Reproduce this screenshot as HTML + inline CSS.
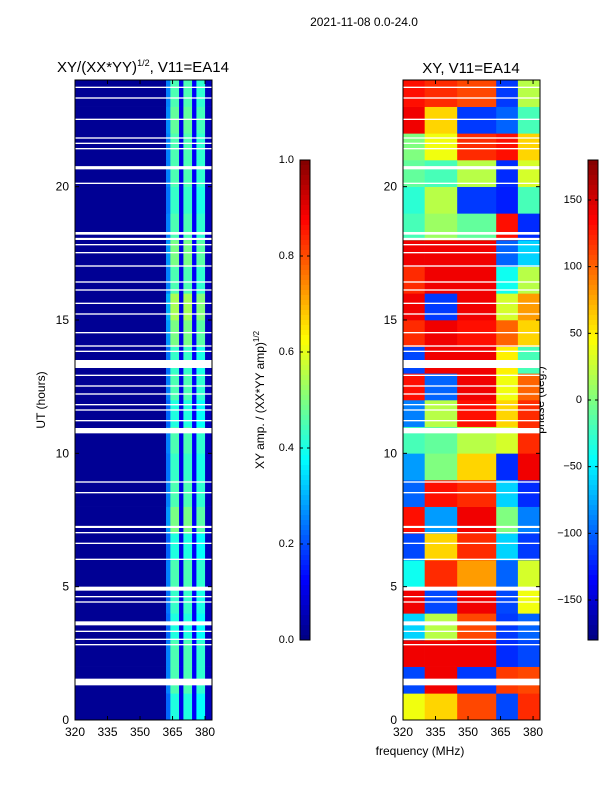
<!DOCTYPE html>
<html><head><meta charset="utf-8">
<style>
body{margin:0;background:#fff;font-family:"Liberation Sans",sans-serif;}
svg text{font-family:"Liberation Sans",sans-serif;}
</style></head>
<body>
<svg id="fig" width="600" height="800" viewBox="0 0 600 800" xmlns="http://www.w3.org/2000/svg">
<rect width="600" height="800" fill="#fff"/>
<text x="364" y="26" font-size="12" text-anchor="middle">2021-11-08 0.0-24.0</text>
<text x="143" y="72" font-size="15" text-anchor="middle">XY/(XX*YY)<tspan dy="-6" font-size="9">1/2</tspan><tspan dy="6">, V11=EA14</tspan></text>
<text x="471" y="73" font-size="15" text-anchor="middle">XY, V11=EA14</text>
<text x="420" y="755" font-size="12" text-anchor="middle">frequency (MHz)</text>
<text transform="translate(45,400) rotate(-90)" font-size="12" text-anchor="middle">UT (hours)</text>
<text transform="translate(264,400) rotate(-90)" font-size="12" text-anchor="middle">XY amp. / (XX*YY amp)<tspan dy="-5" font-size="8">1/2</tspan></text>
<text transform="translate(544,400) rotate(-90)" font-size="12" text-anchor="middle">phase (deg.)</text>
<g id="g"></g>
</svg>
<script>
// ---- data ----
const freqTicks=[320,335,350,365,380];
const hourTicks=[0,5,10,15,20];
const ampTicks=[0.0,0.2,0.4,0.6,0.8,1.0];
const phaseTicks=[-150,-100,-50,0,50,100,150];
// amplitude column bands (start MHz) and values
const ampBandStart=[320,362,364,368,370,374,376,380];
const ampBandVal=[0.02,0.25,0.45,0.1,0.45,0.12,0.42,0.06];
// hourly modulation of bright stripes
const ampHourFactor=[0.9,1.0,1.0,0.9,0.95,1.0,0.9,1.1,1.0,0.95,1.0,0.9,1.0,0.95,1.1,1.2,1.0,1.1,1.0,0.95,1.0,1.0,1.05,1.0];
// phase bands
const phaseBandStart=[320,330,345,363,373];
const phase=[
[40,60,110,-110,120],[-110,140,-115,115,110],[140,140,140,-120,-110],[-60,20,110,-115,-100],
[140,-110,140,-110,40],[-40,120,80,-100,30],[-110,60,120,-60,-115],[130,-80,140,0,-90],
[-100,130,120,-60,-120],[-80,0,60,-120,140],[-20,-10,20,30,120],[-90,20,130,60,120],
[130,-100,140,40,100],[-110,140,140,50,-20],[120,140,130,100,60],[140,-115,140,30,80],
[120,140,140,-40,20],[140,140,140,-100,-60],[-20,10,-10,130,-120],[-30,20,-115,-125,-20],
[-10,-20,20,-120,30],[0,40,120,130,60],[140,60,-115,-100,-20],[130,120,110,-115,20]];
// missing-data rows (hour, width)
const gapHour=[1.3,2.8,3.0,3.3,3.55,4.4,4.6,4.85,6.0,6.6,7.0,7.2,8.5,8.9,10.75,11.2,11.6,11.8,12.2,12.5,12.9,13.2,13.8,14.0,14.5,15.2,15.6,16.1,16.4,17.0,17.5,17.8,18.0,18.2,20.1,20.65,21.4,21.6,21.8,22.5,23.3,23.7];
const gapWidth=[0.25,0.05,0.05,0.05,0.15,0.05,0.05,0.15,0.05,0.05,0.05,0.08,0.05,0.05,0.2,0.05,0.05,0.05,0.05,0.05,0.05,0.3,0.05,0.05,0.05,0.05,0.05,0.05,0.05,0.05,0.05,0.05,0.08,0.1,0.05,0.12,0.05,0.05,0.05,0.05,0.05,0.05];

// ---- scales ----
const NS="http://www.w3.org/2000/svg";
const g=document.getElementById('g');
const F0=320,F1=383.2,Y0=80,Y1=720;
const panels=[{x0:75,x1:212},{x0:403,x1:540}];
function xs(p,f){return p.x0+(f-F0)/(F1-F0)*(p.x1-p.x0);}
function ys(h){return Y1-h/24*(Y1-Y0);}
const CB0=640,CB1=160;
function ampY(v){return CB0-v*(CB0-CB1);}
function phY(v){return CB0-(v+180)/360*(CB0-CB1);}
function jet(t){t=Math.max(0,Math.min(1,t));
 const c=x=>Math.round(255*Math.max(0,Math.min(1,1.5-Math.abs(4*t-x))));
 return `rgb(${c(3)},${c(2)},${c(1)})`;}
function el(tag,attrs,parent){const e=document.createElementNS(NS,tag);for(const k in attrs)e.setAttribute(k,attrs[k]);(parent||g).appendChild(e);return e;}

// left heatmap
const hl=el('g',{});


for(let h=0;h<24;h++){
 for(let b=0;b<ampBandStart.length;b++){
  const f0=ampBandStart[b],f1=b+1<ampBandStart.length?ampBandStart[b+1]:F1;
  const v=ampBandVal[b]>0.2?ampBandVal[b]*ampHourFactor[h]:ampBandVal[b];
  const r=el('rect',{x:xs(panels[0],f0),y:ys(h+1),width:xs(panels[0],f1)-xs(panels[0],f0)+0.3,height:ys(h)-ys(h+1)+0.3,fill:jet(v)},hl);
  
  
 }
}
// right heatmap
const hr=el('g',{});


for(let h=0;h<24;h++){
 for(let b=0;b<phaseBandStart.length;b++){
  const f0=phaseBandStart[b],f1=b+1<phaseBandStart.length?phaseBandStart[b+1]:F1;
  const r=el('rect',{x:xs(panels[1],f0),y:ys(h+1),width:xs(panels[1],f1)-xs(panels[1],f0)+0.3,height:ys(h)-ys(h+1)+0.3,fill:jet((phase[h][b]+180)/360)},hr);
  
  
 }
}
// gaps
panels.forEach((p,pi)=>{
 for(let i=0;i<gapHour.length;i++){
  const r=el('rect',{x:p.x0,y:ys(gapHour[i]+gapWidth[i]),width:p.x1-p.x0,height:Math.max(1.3,ys(gapHour[i])-ys(gapHour[i]+gapWidth[i])),fill:'#fff'});
  
  
 }
});
// axes
panels.forEach((p,pi)=>{
 const fr=el('rect',{x:p.x0,y:Y0,width:p.x1-p.x0,height:Y1-Y0,fill:'none',stroke:'#000','stroke-width':1});
 
 
 freqTicks.forEach(f=>{const x=xs(p,f);
  el('line',{x1:x,y1:Y1,x2:x,y2:Y1-4,stroke:'#000'});el('line',{x1:x,y1:Y0,x2:x,y2:Y0+4,stroke:'#000'});
  const t=el('text',{x:x,y:Y1+16,'font-size':12,'text-anchor':'middle'});t.textContent=f;
  
  });
 hourTicks.forEach(h=>{const y=ys(h);
  el('line',{x1:p.x0,y1:y,x2:p.x0+4,y2:y,stroke:'#000'});el('line',{x1:p.x1,y1:y,x2:p.x1-4,y2:y,stroke:'#000'});
  const t=el('text',{x:p.x0-6,y:y+4,'font-size':12,'text-anchor':'end'});t.textContent=h;
  
  });
});
// colorbars
function colorbar(x,fn,ticks,ys2,name){
 const cg=el('g',{});
 
 
 for(let i=0;i<96;i++){el('rect',{x:x,y:CB1+i*5,width:10,height:5.3,fill:jet(1-(i+0.5)/96)},cg);}
 el('rect',{x:x,y:CB1,width:10,height:CB0-CB1,fill:'none',stroke:'#000'},cg);
 ticks.forEach(v=>{const y=ys2(v);el('line',{x1:x,y1:y,x2:x+3,y2:y,stroke:'#000'},cg);el('line',{x1:x+10,y1:y,x2:x+7,y2:y,stroke:'#000'},cg);
  const t=el('text',{x:x-6,y:y+3,'font-size':11,'text-anchor':'end'},cg);t.textContent=fn(v);
  
  });
}
colorbar(300,v=>v.toFixed(1),ampTicks,ampY,'amp-colorbar');
colorbar(588,v=>v<0?'\u2212'+(-v):''+v,phaseTicks,phY,'phase-colorbar');
</script>
</body></html>
